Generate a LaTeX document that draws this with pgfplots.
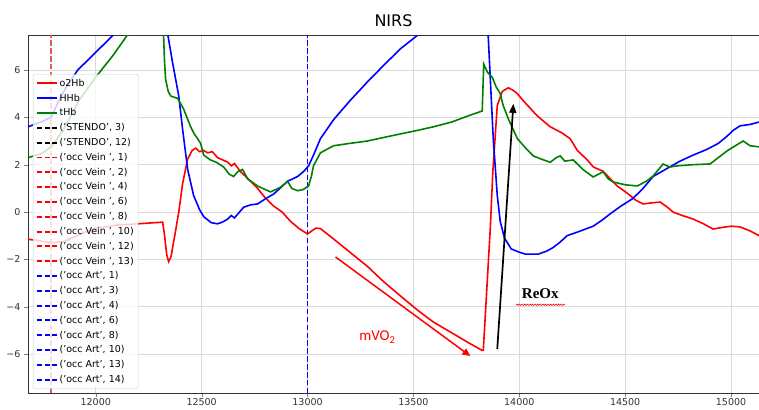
\documentclass[border=0pt]{standalone}
\usepackage{pgfplots}
\pgfplotsset{compat=1.18}
\usepackage{fontspec}
\setmainfont{DejaVu Sans}
\newfontfamily\annfont{Carlito}
\newfontfamily\reoxfont{Liberation Serif}
\usetikzlibrary{arrows.meta,calc,decorations.pathmorphing}
\definecolor{mplred}{RGB}{255,0,0}
\definecolor{mplblue}{RGB}{0,0,255}
\definecolor{mplgreen}{RGB}{0,128,0}
\definecolor{fadedred}{RGB}{230,90,90}
\definecolor{gridgray}{RGB}{218,218,218}
\pgfplotsset{
  markline/.style={line width=1.9pt, dash pattern=on 5.5pt off 2.4pt},
}
\begin{document}
\begin{tikzpicture}
\begin{axis}[
  scale only axis,
  width=731pt, height=358pt,
  xmin=11680, xmax=15132,
  ymin=-7.65, ymax=7.48,
  xtick={12000,12500,13000,13500,14000,14500,15000},
  xticklabels={12000,12500,13000,13500,14000,14500,15000},
  ytick={-6,-4,-2,0,2,4,6},
  yticklabels={−6,−4,−2,0,2,4,6},
  tick label style={font=\fontsize{9.5}{11}\selectfont, text=black!80},
  xticklabel style={yshift=2pt},
  xtick pos=left, ytick pos=left,
  tick align=outside,
  major tick length=4pt,
  grid=major,
  major grid style={gridgray, line width=0.8pt},
  axis line style={black!80, line width=0.8pt},
  title={NIRS},
  title style={font=\fontsize{16}{19}\selectfont, yshift=-1pt},
  legend cell align=left,
  legend style={at={(0.0068,0.012)}, anchor=south west,
    font=\fontsize{9.5}{11}\selectfont,
    draw=black!20, fill=white, fill opacity=0.8, text opacity=1, draw opacity=1,
    rounded corners=2pt, row sep=2.1pt, inner sep=2.5pt},
  every axis plot/.append style={line width=1.6pt},
  legend image code/.code={\draw[rounded corners=0pt, line width=1.9pt, #1] (1pt,0pt) -- (21pt,0pt);},
  clip=true,
]
% vertical markers
\addplot[draw=fadedred, markline, forget plot] coordinates {(11790,-8) (11790,8)};
\addplot[draw=mplblue, markline, forget plot] coordinates {(13000,-8) (13000,8)};

% o2Hb
\addplot[draw=mplred] coordinates {
(11680,-1.15) (11720,-1.2) (11790,-1.3) (11850,-1.25) (11900,-1.05) (11950,-0.85)
(12000,-0.7) (12100,-0.55) (12200,-0.5) (12280,-0.45) (12316,-0.43) (12325,-1.0)
(12335,-1.8) (12344,-2.1) (12355,-1.9) (12375,-0.9) (12392,0) (12410,1.2) (12434,2.24)
(12455,2.6) (12472,2.7) (12490,2.55) (12510,2.6) (12528,2.5) (12550,2.55) (12575,2.3)
(12600,2.2) (12623,2.1) (12640,1.95) (12655,2.05) (12684,1.7) (12720,1.4) (12764,1.0)
(12800,0.6) (12840,0.25) (12880,0.0) (12920,-0.4) (12960,-0.7) (13000,-0.93) (13020,-0.8)
(13040,-0.68) (13061,-0.7) (13123,-1.14) (13200,-1.7) (13283,-2.3) (13360,-2.95)
(13439,-3.55) (13520,-4.15) (13594,-4.65) (13680,-5.1) (13755,-5.5) (13825,-5.85)
(13830,-5.85) (13863,-0.7) (13875,1.7) (13896,4.5) (13920,5.1) (13948,5.25) (13970,5.15)
(13991,5.0) (14019,4.7) (14050,4.4) (14085,4.06) (14146,3.6) (14200,3.35) (14240,3.1)
(14274,2.6) (14321,2.2) (14350,1.9) (14396,1.72) (14430,1.4) (14462,1.1) (14509,0.8)
(14550,0.5) (14585,0.34) (14620,0.38) (14665,0.42) (14700,0.2) (14726,0.0) (14770,-0.15)
(14821,-0.3) (14870,-0.5) (14915,-0.72) (14960,-0.65) (15000,-0.6) (15042,-0.63)
(15090,-0.8) (15132,-1.0)
};
\addlegendentry{o2Hb}

% HHb
\addplot[draw=mplblue] coordinates {
(11680,3.6) (11740,3.8) (11790,4.0) (11830,4.8) (11870,5.4) (11915,6.0) (12000,6.75)
(12085,7.5) (12200,8.5) (12300,9.0) (12330,8.5) (12340,7.5) (12363,6.3) (12392,4.9)
(12410,3.5) (12434,1.8) (12462,0.7) (12490,0.1) (12510,-0.2) (12545,-0.45) (12575,-0.5)
(12600,-0.42) (12623,-0.3) (12640,-0.15) (12655,-0.25) (12698,0.2) (12730,0.3) (12764,0.34)
(12800,0.55) (12840,0.76) (12870,1.0) (12906,1.3) (12953,1.5) (12980,1.7) (13005,1.95)
(13028,2.4) (13061,3.1) (13123,3.9) (13200,4.7) (13283,5.5) (13360,6.2) (13439,6.9)
(13524,7.5) (13600,8.1) (13800,9.5) (13840,9.5) (13854,7.3) (13877,3.1) (13896,0.7)
(13910,-0.4) (13930,-1.1) (13962,-1.56) (14000,-1.7) (14028,-1.78) (14090,-1.78)
(14130,-1.65) (14160,-1.5) (14193,-1.27) (14226,-1.0) (14274,-0.85) (14349,-0.6)
(14390,-0.35) (14429,-0.08) (14480,0.25) (14533,0.55) (14580,0.95) (14632,1.5)
(14700,1.85) (14759,2.15) (14820,2.4) (14887,2.65) (14940,2.9) (14981,3.2) (15010,3.45)
(15042,3.64) (15090,3.7) (15132,3.8)
};
\addlegendentry{HHb}

% tHb
\addplot[draw=mplgreen] coordinates {
(11680,2.3) (11740,2.45) (11790,2.75) (11850,3.5) (11920,4.7) (12000,5.7) (12080,6.6)
(12151,7.5) (12250,8.8) (12300,9.2) (12315,8.5) (12320,7.5) (12325,6.3) (12330,5.6)
(12342,5.1) (12354,4.9) (12387,4.8) (12415,4.35) (12448,3.6) (12465,3.3) (12481,3.1)
(12495,2.9) (12510,2.4) (12542,2.2) (12570,2.1) (12604,1.9) (12630,1.6) (12651,1.5)
(12670,1.7) (12693,1.8) (12717,1.4) (12764,1.1) (12800,0.95) (12825,0.85) (12850,0.95)
(12873,1.05) (12906,1.3) (12925,1.0) (12953,0.9) (12980,0.95) (13005,1.1) (13018,1.5)
(13028,1.95) (13061,2.5) (13123,2.8) (13200,2.9) (13283,3.0) (13360,3.15) (13439,3.3)
(13520,3.45) (13594,3.6) (13680,3.8) (13755,4.05) (13825,4.27) (13832,6.25) (13850,5.9)
(13872,5.7) (13890,5.3) (13910,5.0) (13924,4.5) (13950,3.9) (13991,3.1) (14030,2.7)
(14066,2.37) (14100,2.25) (14146,2.1) (14175,2.3) (14193,2.37) (14215,2.15) (14255,2.2)
(14300,1.8) (14349,1.48) (14396,1.7) (14420,1.4) (14443,1.27) (14500,1.15) (14557,1.1)
(14600,1.3) (14632,1.52) (14679,2.03) (14710,1.9) (14745,1.95) (14820,2.0) (14901,2.03)
(14940,2.3) (14981,2.58) (15020,2.8) (15057,3.0) (15090,2.8) (15132,2.75)
};
\addlegendentry{tHb}

\addlegendimage{draw=black, markline}
\addlegendentry{('STENDO', 3)}
\addlegendimage{draw=black, markline}
\addlegendentry{('STENDO', 12)}
\addlegendimage{draw=mplred, markline}
\addlegendentry{('occ Vein ', 1)}
\addlegendimage{draw=mplred, markline}
\addlegendentry{('occ Vein ', 2)}
\addlegendimage{draw=mplred, markline}
\addlegendentry{('occ Vein ', 4)}
\addlegendimage{draw=mplred, markline}
\addlegendentry{('occ Vein ', 6)}
\addlegendimage{draw=mplred, markline}
\addlegendentry{('occ Vein ', 8)}
\addlegendimage{draw=mplred, markline}
\addlegendentry{('occ Vein ', 10)}
\addlegendimage{draw=mplred, markline}
\addlegendentry{('occ Vein ', 12)}
\addlegendimage{draw=mplred, markline}
\addlegendentry{('occ Vein ', 13)}
\addlegendimage{draw=mplblue, markline}
\addlegendentry{('occ Art', 1)}
\addlegendimage{draw=mplblue, markline}
\addlegendentry{('occ Art', 3)}
\addlegendimage{draw=mplblue, markline}
\addlegendentry{('occ Art', 4)}
\addlegendimage{draw=mplblue, markline}
\addlegendentry{('occ Art', 6)}
\addlegendimage{draw=mplblue, markline}
\addlegendentry{('occ Art', 8)}
\addlegendimage{draw=mplblue, markline}
\addlegendentry{('occ Art', 10)}
\addlegendimage{draw=mplblue, markline}
\addlegendentry{('occ Art', 13)}
\addlegendimage{draw=mplblue, markline}
\addlegendentry{('occ Art', 14)}

% annotations
\draw[mplred, line width=1.5pt, -{Triangle[length=8pt,width=7pt]}]
  (axis cs:13132,-1.9) -- (axis cs:13769,-6.09);
\node[mplred, font=\annfont\fontsize{15}{18}\selectfont] at (axis cs:13330,-5.29) {mVO\textsubscript{2}};
\draw[black, line width=1.7pt, -{Triangle[length=9pt,width=7pt]}]
  (axis cs:13896,-5.79) -- (axis cs:13972,4.57);
\node[black, font=\reoxfont\bfseries\fontsize{15}{18}\selectfont] at (axis cs:14099,-3.47) {ReOx};
\draw[mplred, line width=0.6pt, decorate, decoration={snake, amplitude=0.7pt, segment length=2.6pt}]
  (axis cs:13985,-3.92) -- (axis cs:14215,-3.92);
\end{axis}
\pgfresetboundingbox
\path ($(current axis.south west)+(-28pt,-16pt)$) rectangle ($(current axis.north east)+(0pt,35pt)$);
\end{tikzpicture}
\end{document}
